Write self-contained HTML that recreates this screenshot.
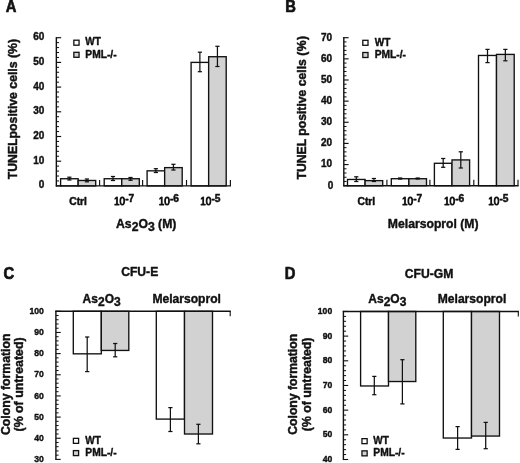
<!DOCTYPE html><html><head><meta charset="utf-8"><title>Figure</title>
<style>html,body{margin:0;padding:0;background:#fff}svg{display:block;filter:blur(0.3px)}text{font-family:"Liberation Sans",sans-serif;font-weight:bold;fill:#111;stroke:#111;stroke-width:0.4px;stroke-linejoin:round}.big{stroke-width:0.45px}.ltr{stroke-width:0.6px}.leg{stroke-width:0.4px}.xt{stroke-width:0.5px}.ttl{stroke-width:0.4px}</style></head><body>
<svg width="520" height="463" viewBox="0 0 520 463">
<rect x="0" y="0" width="520" height="463" fill="#fff"/>
<text class="ltr" transform="translate(5.70,11.70) scale(1,1.12)" font-size="14.8">A</text>
<rect x="60.60" y="178.74" width="17.55" height="7.16" fill="#fff" stroke="#111" stroke-width="1.35"/>
<rect x="78.15" y="180.47" width="17.55" height="5.43" fill="#d2d2d2" stroke="#111" stroke-width="1.35"/>
<line x1="69.38" y1="177.20" x2="69.38" y2="180.00" stroke="#111" stroke-width="1.25"/>
<line x1="67.28" y1="177.20" x2="71.47" y2="177.20" stroke="#111" stroke-width="1.25"/>
<line x1="67.28" y1="180.00" x2="71.47" y2="180.00" stroke="#111" stroke-width="1.25"/>
<line x1="86.93" y1="179.00" x2="86.93" y2="181.80" stroke="#111" stroke-width="1.25"/>
<line x1="84.83" y1="179.00" x2="89.03" y2="179.00" stroke="#111" stroke-width="1.25"/>
<line x1="84.83" y1="181.80" x2="89.03" y2="181.80" stroke="#111" stroke-width="1.25"/>
<rect x="104.20" y="178.74" width="17.55" height="7.16" fill="#fff" stroke="#111" stroke-width="1.35"/>
<rect x="121.75" y="178.74" width="17.55" height="7.16" fill="#d2d2d2" stroke="#111" stroke-width="1.35"/>
<line x1="112.98" y1="176.50" x2="112.98" y2="180.50" stroke="#111" stroke-width="1.25"/>
<line x1="110.88" y1="176.50" x2="115.08" y2="176.50" stroke="#111" stroke-width="1.25"/>
<line x1="110.88" y1="180.50" x2="115.08" y2="180.50" stroke="#111" stroke-width="1.25"/>
<line x1="130.53" y1="177.50" x2="130.53" y2="180.30" stroke="#111" stroke-width="1.25"/>
<line x1="128.43" y1="177.50" x2="132.62" y2="177.50" stroke="#111" stroke-width="1.25"/>
<line x1="128.43" y1="180.30" x2="132.62" y2="180.30" stroke="#111" stroke-width="1.25"/>
<rect x="147.10" y="170.83" width="17.55" height="15.07" fill="#fff" stroke="#111" stroke-width="1.35"/>
<rect x="164.65" y="167.62" width="17.55" height="18.28" fill="#d2d2d2" stroke="#111" stroke-width="1.35"/>
<line x1="155.88" y1="168.70" x2="155.88" y2="172.50" stroke="#111" stroke-width="1.25"/>
<line x1="153.78" y1="168.70" x2="157.97" y2="168.70" stroke="#111" stroke-width="1.25"/>
<line x1="153.78" y1="172.50" x2="157.97" y2="172.50" stroke="#111" stroke-width="1.25"/>
<line x1="173.43" y1="164.30" x2="173.43" y2="170.00" stroke="#111" stroke-width="1.25"/>
<line x1="171.33" y1="164.30" x2="175.53" y2="164.30" stroke="#111" stroke-width="1.25"/>
<line x1="171.33" y1="170.00" x2="175.53" y2="170.00" stroke="#111" stroke-width="1.25"/>
<rect x="191.10" y="62.40" width="17.55" height="123.50" fill="#fff" stroke="#111" stroke-width="1.35"/>
<rect x="208.65" y="56.72" width="17.55" height="129.18" fill="#d2d2d2" stroke="#111" stroke-width="1.35"/>
<line x1="199.88" y1="52.20" x2="199.88" y2="71.70" stroke="#111" stroke-width="1.25"/>
<line x1="197.78" y1="52.20" x2="201.97" y2="52.20" stroke="#111" stroke-width="1.25"/>
<line x1="197.78" y1="71.70" x2="201.97" y2="71.70" stroke="#111" stroke-width="1.25"/>
<line x1="217.43" y1="46.30" x2="217.43" y2="66.50" stroke="#111" stroke-width="1.25"/>
<line x1="215.33" y1="46.30" x2="219.53" y2="46.30" stroke="#111" stroke-width="1.25"/>
<line x1="215.33" y1="66.50" x2="219.53" y2="66.50" stroke="#111" stroke-width="1.25"/>
<line x1="56.35" y1="37.10" x2="56.35" y2="186.50" stroke="#111" stroke-width="1.4"/>
<line x1="55.75" y1="185.90" x2="231.00" y2="185.90" stroke="#111" stroke-width="1.4"/>
<line x1="99.60" y1="185.90" x2="99.60" y2="179.90" stroke="#111" stroke-width="1.15"/>
<line x1="142.60" y1="185.90" x2="142.60" y2="179.90" stroke="#111" stroke-width="1.15"/>
<line x1="186.50" y1="185.90" x2="186.50" y2="179.90" stroke="#111" stroke-width="1.15"/>
<line x1="230.40" y1="185.90" x2="230.40" y2="179.90" stroke="#111" stroke-width="1.15"/>
<line x1="56.35" y1="185.90" x2="61.15" y2="185.90" stroke="#111" stroke-width="1.15"/>
<text x="44.30" y="188.30" font-size="10" text-anchor="end" >0</text>
<line x1="56.35" y1="180.96" x2="59.05" y2="180.96" stroke="#111" stroke-width="1.0"/>
<line x1="56.35" y1="176.02" x2="59.05" y2="176.02" stroke="#111" stroke-width="1.0"/>
<line x1="56.35" y1="171.08" x2="59.05" y2="171.08" stroke="#111" stroke-width="1.0"/>
<line x1="56.35" y1="166.14" x2="59.05" y2="166.14" stroke="#111" stroke-width="1.0"/>
<line x1="56.35" y1="161.20" x2="61.15" y2="161.20" stroke="#111" stroke-width="1.15"/>
<text x="44.30" y="163.60" font-size="10" text-anchor="end" >10</text>
<line x1="56.35" y1="156.26" x2="59.05" y2="156.26" stroke="#111" stroke-width="1.0"/>
<line x1="56.35" y1="151.32" x2="59.05" y2="151.32" stroke="#111" stroke-width="1.0"/>
<line x1="56.35" y1="146.38" x2="59.05" y2="146.38" stroke="#111" stroke-width="1.0"/>
<line x1="56.35" y1="141.44" x2="59.05" y2="141.44" stroke="#111" stroke-width="1.0"/>
<line x1="56.35" y1="136.50" x2="61.15" y2="136.50" stroke="#111" stroke-width="1.15"/>
<text x="44.30" y="138.90" font-size="10" text-anchor="end" >20</text>
<line x1="56.35" y1="131.56" x2="59.05" y2="131.56" stroke="#111" stroke-width="1.0"/>
<line x1="56.35" y1="126.62" x2="59.05" y2="126.62" stroke="#111" stroke-width="1.0"/>
<line x1="56.35" y1="121.68" x2="59.05" y2="121.68" stroke="#111" stroke-width="1.0"/>
<line x1="56.35" y1="116.74" x2="59.05" y2="116.74" stroke="#111" stroke-width="1.0"/>
<line x1="56.35" y1="111.80" x2="61.15" y2="111.80" stroke="#111" stroke-width="1.15"/>
<text x="44.30" y="114.20" font-size="10" text-anchor="end" >30</text>
<line x1="56.35" y1="106.86" x2="59.05" y2="106.86" stroke="#111" stroke-width="1.0"/>
<line x1="56.35" y1="101.92" x2="59.05" y2="101.92" stroke="#111" stroke-width="1.0"/>
<line x1="56.35" y1="96.98" x2="59.05" y2="96.98" stroke="#111" stroke-width="1.0"/>
<line x1="56.35" y1="92.04" x2="59.05" y2="92.04" stroke="#111" stroke-width="1.0"/>
<line x1="56.35" y1="87.10" x2="61.15" y2="87.10" stroke="#111" stroke-width="1.15"/>
<text x="44.30" y="89.50" font-size="10" text-anchor="end" >40</text>
<line x1="56.35" y1="82.16" x2="59.05" y2="82.16" stroke="#111" stroke-width="1.0"/>
<line x1="56.35" y1="77.22" x2="59.05" y2="77.22" stroke="#111" stroke-width="1.0"/>
<line x1="56.35" y1="72.28" x2="59.05" y2="72.28" stroke="#111" stroke-width="1.0"/>
<line x1="56.35" y1="67.34" x2="59.05" y2="67.34" stroke="#111" stroke-width="1.0"/>
<line x1="56.35" y1="62.40" x2="61.15" y2="62.40" stroke="#111" stroke-width="1.15"/>
<text x="44.30" y="64.80" font-size="10" text-anchor="end" >50</text>
<line x1="56.35" y1="57.46" x2="59.05" y2="57.46" stroke="#111" stroke-width="1.0"/>
<line x1="56.35" y1="52.52" x2="59.05" y2="52.52" stroke="#111" stroke-width="1.0"/>
<line x1="56.35" y1="47.58" x2="59.05" y2="47.58" stroke="#111" stroke-width="1.0"/>
<line x1="56.35" y1="42.64" x2="59.05" y2="42.64" stroke="#111" stroke-width="1.0"/>
<line x1="56.35" y1="37.70" x2="61.15" y2="37.70" stroke="#111" stroke-width="1.15"/>
<text x="44.30" y="40.10" font-size="10" text-anchor="end" >60</text>
<text x="78.07" y="205.00" font-size="10.2" text-anchor="middle" class="xt">Ctrl</text>
<text class="xt" x="114.00" y="205" font-size="10.2"><tspan style="font-weight:normal;stroke-width:0.85px" font-size="10">10</tspan><tspan dy="-3.2" dx="0.1">-7</tspan></text>
<text class="xt" x="158.70" y="205" font-size="10.2"><tspan style="font-weight:normal;stroke-width:0.85px" font-size="10">10</tspan><tspan dy="-3.2" dx="0.1">-6</tspan></text>
<text class="xt" x="200.20" y="205" font-size="10.2"><tspan style="font-weight:normal;stroke-width:0.85px" font-size="10">10</tspan><tspan dy="-3.2" dx="0.1">-5</tspan></text>
<text class="ttl" x="146.2" y="227.5" font-size="12.2" text-anchor="middle">As<tspan dy="3.6">2</tspan><tspan dy="-3.6">O</tspan><tspan dy="3.6">3</tspan><tspan dy="-3.6"> (M)</tspan></text>
<text class="big" transform="translate(17.30,109.10) rotate(-90)" font-size="12.25" text-anchor="middle">TUNELpositive cells (%)</text>
<rect x="73.85" y="40.20" width="5.20" height="5.00" fill="#fff" stroke="#111" stroke-width="1.3"/>
<text class="leg" x="85.3" y="45.4" font-size="10.25" textLength="15.6" lengthAdjust="spacingAndGlyphs">WT</text>
<rect x="73.85" y="52.30" width="5.20" height="5.00" fill="#d2d2d2" stroke="#111" stroke-width="1.3"/>
<text x="85.30" y="57.70" font-size="10.25" text-anchor="start" class="leg">PML-/-</text>
<text class="ltr" transform="translate(285.20,12.00) scale(1,1.12)" font-size="14.8">B</text>
<rect x="347.50" y="179.46" width="17.60" height="6.24" fill="#fff" stroke="#111" stroke-width="1.35"/>
<rect x="365.10" y="180.63" width="17.60" height="5.07" fill="#d2d2d2" stroke="#111" stroke-width="1.35"/>
<line x1="356.30" y1="176.80" x2="356.30" y2="181.50" stroke="#111" stroke-width="1.25"/>
<line x1="354.20" y1="176.80" x2="358.40" y2="176.80" stroke="#111" stroke-width="1.25"/>
<line x1="354.20" y1="181.50" x2="358.40" y2="181.50" stroke="#111" stroke-width="1.25"/>
<line x1="373.90" y1="178.50" x2="373.90" y2="181.50" stroke="#111" stroke-width="1.25"/>
<line x1="371.80" y1="178.50" x2="376.00" y2="178.50" stroke="#111" stroke-width="1.25"/>
<line x1="371.80" y1="181.50" x2="376.00" y2="181.50" stroke="#111" stroke-width="1.25"/>
<rect x="391.30" y="178.72" width="17.60" height="6.98" fill="#fff" stroke="#111" stroke-width="1.35"/>
<rect x="408.90" y="178.72" width="17.60" height="6.98" fill="#d2d2d2" stroke="#111" stroke-width="1.35"/>
<line x1="400.10" y1="178.00" x2="400.10" y2="179.00" stroke="#111" stroke-width="1.25"/>
<line x1="398.00" y1="178.00" x2="402.20" y2="178.00" stroke="#111" stroke-width="1.25"/>
<line x1="398.00" y1="179.00" x2="402.20" y2="179.00" stroke="#111" stroke-width="1.25"/>
<line x1="417.70" y1="178.00" x2="417.70" y2="179.00" stroke="#111" stroke-width="1.25"/>
<line x1="415.60" y1="178.00" x2="419.80" y2="178.00" stroke="#111" stroke-width="1.25"/>
<line x1="415.60" y1="179.00" x2="419.80" y2="179.00" stroke="#111" stroke-width="1.25"/>
<rect x="434.40" y="163.29" width="17.60" height="22.41" fill="#fff" stroke="#111" stroke-width="1.35"/>
<rect x="452.00" y="159.91" width="17.60" height="25.79" fill="#d2d2d2" stroke="#111" stroke-width="1.35"/>
<line x1="443.20" y1="158.50" x2="443.20" y2="167.30" stroke="#111" stroke-width="1.25"/>
<line x1="441.10" y1="158.50" x2="445.30" y2="158.50" stroke="#111" stroke-width="1.25"/>
<line x1="441.10" y1="167.30" x2="445.30" y2="167.30" stroke="#111" stroke-width="1.25"/>
<line x1="460.80" y1="151.80" x2="460.80" y2="168.00" stroke="#111" stroke-width="1.25"/>
<line x1="458.70" y1="151.80" x2="462.90" y2="151.80" stroke="#111" stroke-width="1.25"/>
<line x1="458.70" y1="168.00" x2="462.90" y2="168.00" stroke="#111" stroke-width="1.25"/>
<rect x="478.50" y="55.46" width="18.00" height="130.24" fill="#fff" stroke="#111" stroke-width="1.35"/>
<rect x="496.50" y="54.40" width="17.70" height="131.30" fill="#d2d2d2" stroke="#111" stroke-width="1.35"/>
<line x1="487.50" y1="49.40" x2="487.50" y2="62.60" stroke="#111" stroke-width="1.25"/>
<line x1="485.40" y1="49.40" x2="489.60" y2="49.40" stroke="#111" stroke-width="1.25"/>
<line x1="485.40" y1="62.60" x2="489.60" y2="62.60" stroke="#111" stroke-width="1.25"/>
<line x1="505.35" y1="49.40" x2="505.35" y2="60.80" stroke="#111" stroke-width="1.25"/>
<line x1="503.25" y1="49.40" x2="507.45" y2="49.40" stroke="#111" stroke-width="1.25"/>
<line x1="503.25" y1="60.80" x2="507.45" y2="60.80" stroke="#111" stroke-width="1.25"/>
<line x1="343.80" y1="37.10" x2="343.80" y2="186.30" stroke="#111" stroke-width="1.4"/>
<line x1="343.20" y1="185.70" x2="518.60" y2="185.70" stroke="#111" stroke-width="1.4"/>
<line x1="386.90" y1="185.70" x2="386.90" y2="179.70" stroke="#111" stroke-width="1.15"/>
<line x1="429.90" y1="185.70" x2="429.90" y2="179.70" stroke="#111" stroke-width="1.15"/>
<line x1="473.80" y1="185.70" x2="473.80" y2="179.70" stroke="#111" stroke-width="1.15"/>
<line x1="518.00" y1="185.70" x2="518.00" y2="179.70" stroke="#111" stroke-width="1.15"/>
<line x1="343.80" y1="185.70" x2="348.60" y2="185.70" stroke="#111" stroke-width="1.15"/>
<text x="333.40" y="188.50" font-size="10" text-anchor="end" >0</text>
<line x1="343.80" y1="181.47" x2="346.50" y2="181.47" stroke="#111" stroke-width="1.0"/>
<line x1="343.80" y1="177.24" x2="346.50" y2="177.24" stroke="#111" stroke-width="1.0"/>
<line x1="343.80" y1="173.01" x2="346.50" y2="173.01" stroke="#111" stroke-width="1.0"/>
<line x1="343.80" y1="168.79" x2="346.50" y2="168.79" stroke="#111" stroke-width="1.0"/>
<line x1="343.80" y1="164.56" x2="348.60" y2="164.56" stroke="#111" stroke-width="1.15"/>
<text x="332.20" y="167.36" font-size="10" text-anchor="end" >10</text>
<line x1="343.80" y1="160.33" x2="346.50" y2="160.33" stroke="#111" stroke-width="1.0"/>
<line x1="343.80" y1="156.10" x2="346.50" y2="156.10" stroke="#111" stroke-width="1.0"/>
<line x1="343.80" y1="151.87" x2="346.50" y2="151.87" stroke="#111" stroke-width="1.0"/>
<line x1="343.80" y1="147.64" x2="346.50" y2="147.64" stroke="#111" stroke-width="1.0"/>
<line x1="343.80" y1="143.41" x2="348.60" y2="143.41" stroke="#111" stroke-width="1.15"/>
<text x="332.20" y="146.21" font-size="10" text-anchor="end" >20</text>
<line x1="343.80" y1="139.19" x2="346.50" y2="139.19" stroke="#111" stroke-width="1.0"/>
<line x1="343.80" y1="134.96" x2="346.50" y2="134.96" stroke="#111" stroke-width="1.0"/>
<line x1="343.80" y1="130.73" x2="346.50" y2="130.73" stroke="#111" stroke-width="1.0"/>
<line x1="343.80" y1="126.50" x2="346.50" y2="126.50" stroke="#111" stroke-width="1.0"/>
<line x1="343.80" y1="122.27" x2="348.60" y2="122.27" stroke="#111" stroke-width="1.15"/>
<text x="332.20" y="125.07" font-size="10" text-anchor="end" >30</text>
<line x1="343.80" y1="118.04" x2="346.50" y2="118.04" stroke="#111" stroke-width="1.0"/>
<line x1="343.80" y1="113.81" x2="346.50" y2="113.81" stroke="#111" stroke-width="1.0"/>
<line x1="343.80" y1="109.59" x2="346.50" y2="109.59" stroke="#111" stroke-width="1.0"/>
<line x1="343.80" y1="105.36" x2="346.50" y2="105.36" stroke="#111" stroke-width="1.0"/>
<line x1="343.80" y1="101.13" x2="348.60" y2="101.13" stroke="#111" stroke-width="1.15"/>
<text x="332.20" y="103.93" font-size="10" text-anchor="end" >40</text>
<line x1="343.80" y1="96.90" x2="346.50" y2="96.90" stroke="#111" stroke-width="1.0"/>
<line x1="343.80" y1="92.67" x2="346.50" y2="92.67" stroke="#111" stroke-width="1.0"/>
<line x1="343.80" y1="88.44" x2="346.50" y2="88.44" stroke="#111" stroke-width="1.0"/>
<line x1="343.80" y1="84.21" x2="346.50" y2="84.21" stroke="#111" stroke-width="1.0"/>
<line x1="343.80" y1="79.99" x2="348.60" y2="79.99" stroke="#111" stroke-width="1.15"/>
<text x="332.20" y="82.79" font-size="10" text-anchor="end" >50</text>
<line x1="343.80" y1="75.76" x2="346.50" y2="75.76" stroke="#111" stroke-width="1.0"/>
<line x1="343.80" y1="71.53" x2="346.50" y2="71.53" stroke="#111" stroke-width="1.0"/>
<line x1="343.80" y1="67.30" x2="346.50" y2="67.30" stroke="#111" stroke-width="1.0"/>
<line x1="343.80" y1="63.07" x2="346.50" y2="63.07" stroke="#111" stroke-width="1.0"/>
<line x1="343.80" y1="58.84" x2="348.60" y2="58.84" stroke="#111" stroke-width="1.15"/>
<text x="332.20" y="61.64" font-size="10" text-anchor="end" >60</text>
<line x1="343.80" y1="54.61" x2="346.50" y2="54.61" stroke="#111" stroke-width="1.0"/>
<line x1="343.80" y1="50.39" x2="346.50" y2="50.39" stroke="#111" stroke-width="1.0"/>
<line x1="343.80" y1="46.16" x2="346.50" y2="46.16" stroke="#111" stroke-width="1.0"/>
<line x1="343.80" y1="41.93" x2="346.50" y2="41.93" stroke="#111" stroke-width="1.0"/>
<line x1="343.80" y1="37.70" x2="348.60" y2="37.70" stroke="#111" stroke-width="1.15"/>
<text x="332.20" y="40.50" font-size="10" text-anchor="end" >70</text>
<text x="366.35" y="205.00" font-size="10.2" text-anchor="middle" class="xt">Ctrl</text>
<text class="xt" x="402.00" y="205" font-size="10.2"><tspan style="font-weight:normal;stroke-width:0.85px" font-size="10">10</tspan><tspan dy="-3.2" dx="0.1">-7</tspan></text>
<text class="xt" x="443.90" y="205" font-size="10.2"><tspan style="font-weight:normal;stroke-width:0.85px" font-size="10">10</tspan><tspan dy="-3.2" dx="0.1">-6</tspan></text>
<text class="xt" x="488.20" y="205" font-size="10.2"><tspan style="font-weight:normal;stroke-width:0.85px" font-size="10">10</tspan><tspan dy="-3.2" dx="0.1">-5</tspan></text>
<text class="ttl" x="433.2" y="228.0" font-size="12.2" text-anchor="middle">Melarsoprol (M)</text>
<text class="big" transform="translate(306.10,107.50) rotate(-90)" font-size="12.2" text-anchor="middle">TUNEL positive cells <tspan letter-spacing="0.45">(%)</tspan></text>
<rect x="362.80" y="40.30" width="5.20" height="5.00" fill="#fff" stroke="#111" stroke-width="1.3"/>
<text class="leg" x="374.7" y="45.6" font-size="10.25" textLength="15.6" lengthAdjust="spacingAndGlyphs">WT</text>
<rect x="362.80" y="52.50" width="5.20" height="5.00" fill="#d2d2d2" stroke="#111" stroke-width="1.3"/>
<text x="374.70" y="57.90" font-size="10.25" text-anchor="start" class="leg">PML-/-</text>
<text class="ltr" transform="translate(3.60,279.30) scale(1,1.12)" font-size="14.8">C</text>
<rect x="73.30" y="311.30" width="28.00" height="42.53" fill="#fff" stroke="#111" stroke-width="1.35"/>
<rect x="101.30" y="311.30" width="27.50" height="39.14" fill="#d2d2d2" stroke="#111" stroke-width="1.35"/>
<rect x="156.30" y="311.30" width="28.20" height="107.80" fill="#fff" stroke="#111" stroke-width="1.35"/>
<rect x="184.50" y="311.30" width="28.00" height="122.71" fill="#d2d2d2" stroke="#111" stroke-width="1.35"/>
<line x1="87.20" y1="337.00" x2="87.20" y2="371.60" stroke="#111" stroke-width="1.25"/>
<line x1="85.10" y1="337.00" x2="89.30" y2="337.00" stroke="#111" stroke-width="1.25"/>
<line x1="85.10" y1="371.60" x2="89.30" y2="371.60" stroke="#111" stroke-width="1.25"/>
<line x1="115.20" y1="343.50" x2="115.20" y2="356.80" stroke="#111" stroke-width="1.25"/>
<line x1="113.10" y1="343.50" x2="117.30" y2="343.50" stroke="#111" stroke-width="1.25"/>
<line x1="113.10" y1="356.80" x2="117.30" y2="356.80" stroke="#111" stroke-width="1.25"/>
<line x1="170.40" y1="407.60" x2="170.40" y2="431.50" stroke="#111" stroke-width="1.25"/>
<line x1="168.30" y1="407.60" x2="172.50" y2="407.60" stroke="#111" stroke-width="1.25"/>
<line x1="168.30" y1="431.50" x2="172.50" y2="431.50" stroke="#111" stroke-width="1.25"/>
<line x1="198.40" y1="424.30" x2="198.40" y2="443.80" stroke="#111" stroke-width="1.25"/>
<line x1="196.30" y1="424.30" x2="200.50" y2="424.30" stroke="#111" stroke-width="1.25"/>
<line x1="196.30" y1="443.80" x2="200.50" y2="443.80" stroke="#111" stroke-width="1.25"/>
<line x1="55.90" y1="310.70" x2="55.90" y2="460.00" stroke="#111" stroke-width="1.4"/>
<line x1="55.30" y1="311.30" x2="230.80" y2="311.30" stroke="#111" stroke-width="1.4"/>
<line x1="230.20" y1="311.30" x2="230.20" y2="316.30" stroke="#111" stroke-width="1.1"/>
<line x1="55.90" y1="459.40" x2="60.70" y2="459.40" stroke="#111" stroke-width="1.1"/>
<text x="43.90" y="462.00" font-size="8.6" text-anchor="end" >30</text>
<line x1="55.90" y1="455.17" x2="58.60" y2="455.17" stroke="#111" stroke-width="1.0"/>
<line x1="55.90" y1="450.94" x2="58.60" y2="450.94" stroke="#111" stroke-width="1.0"/>
<line x1="55.90" y1="446.71" x2="58.60" y2="446.71" stroke="#111" stroke-width="1.0"/>
<line x1="55.90" y1="442.47" x2="58.60" y2="442.47" stroke="#111" stroke-width="1.0"/>
<line x1="55.90" y1="438.24" x2="60.70" y2="438.24" stroke="#111" stroke-width="1.1"/>
<text x="43.90" y="440.84" font-size="8.6" text-anchor="end" >40</text>
<line x1="55.90" y1="434.01" x2="58.60" y2="434.01" stroke="#111" stroke-width="1.0"/>
<line x1="55.90" y1="429.78" x2="58.60" y2="429.78" stroke="#111" stroke-width="1.0"/>
<line x1="55.90" y1="425.55" x2="58.60" y2="425.55" stroke="#111" stroke-width="1.0"/>
<line x1="55.90" y1="421.32" x2="58.60" y2="421.32" stroke="#111" stroke-width="1.0"/>
<line x1="55.90" y1="417.09" x2="60.70" y2="417.09" stroke="#111" stroke-width="1.1"/>
<text x="43.90" y="419.69" font-size="8.6" text-anchor="end" >50</text>
<line x1="55.90" y1="412.85" x2="58.60" y2="412.85" stroke="#111" stroke-width="1.0"/>
<line x1="55.90" y1="408.62" x2="58.60" y2="408.62" stroke="#111" stroke-width="1.0"/>
<line x1="55.90" y1="404.39" x2="58.60" y2="404.39" stroke="#111" stroke-width="1.0"/>
<line x1="55.90" y1="400.16" x2="58.60" y2="400.16" stroke="#111" stroke-width="1.0"/>
<line x1="55.90" y1="395.93" x2="60.70" y2="395.93" stroke="#111" stroke-width="1.1"/>
<text x="43.90" y="398.53" font-size="8.6" text-anchor="end" >60</text>
<line x1="55.90" y1="391.70" x2="58.60" y2="391.70" stroke="#111" stroke-width="1.0"/>
<line x1="55.90" y1="387.47" x2="58.60" y2="387.47" stroke="#111" stroke-width="1.0"/>
<line x1="55.90" y1="383.23" x2="58.60" y2="383.23" stroke="#111" stroke-width="1.0"/>
<line x1="55.90" y1="379.00" x2="58.60" y2="379.00" stroke="#111" stroke-width="1.0"/>
<line x1="55.90" y1="374.77" x2="60.70" y2="374.77" stroke="#111" stroke-width="1.1"/>
<text x="43.90" y="377.37" font-size="8.6" text-anchor="end" >70</text>
<line x1="55.90" y1="370.54" x2="58.60" y2="370.54" stroke="#111" stroke-width="1.0"/>
<line x1="55.90" y1="366.31" x2="58.60" y2="366.31" stroke="#111" stroke-width="1.0"/>
<line x1="55.90" y1="362.08" x2="58.60" y2="362.08" stroke="#111" stroke-width="1.0"/>
<line x1="55.90" y1="357.85" x2="58.60" y2="357.85" stroke="#111" stroke-width="1.0"/>
<line x1="55.90" y1="353.61" x2="60.70" y2="353.61" stroke="#111" stroke-width="1.1"/>
<text x="43.90" y="356.21" font-size="8.6" text-anchor="end" >80</text>
<line x1="55.90" y1="349.38" x2="58.60" y2="349.38" stroke="#111" stroke-width="1.0"/>
<line x1="55.90" y1="345.15" x2="58.60" y2="345.15" stroke="#111" stroke-width="1.0"/>
<line x1="55.90" y1="340.92" x2="58.60" y2="340.92" stroke="#111" stroke-width="1.0"/>
<line x1="55.90" y1="336.69" x2="58.60" y2="336.69" stroke="#111" stroke-width="1.0"/>
<line x1="55.90" y1="332.46" x2="60.70" y2="332.46" stroke="#111" stroke-width="1.1"/>
<text x="43.90" y="335.06" font-size="8.6" text-anchor="end" >90</text>
<line x1="55.90" y1="328.23" x2="58.60" y2="328.23" stroke="#111" stroke-width="1.0"/>
<line x1="55.90" y1="323.99" x2="58.60" y2="323.99" stroke="#111" stroke-width="1.0"/>
<line x1="55.90" y1="319.76" x2="58.60" y2="319.76" stroke="#111" stroke-width="1.0"/>
<line x1="55.90" y1="315.53" x2="58.60" y2="315.53" stroke="#111" stroke-width="1.0"/>
<line x1="55.90" y1="311.30" x2="60.70" y2="311.30" stroke="#111" stroke-width="1.1"/>
<text x="43.90" y="313.90" font-size="8.6" text-anchor="end" >100</text>
<text x="139.70" y="275.60" font-size="12.15" text-anchor="middle" class="ttl">CFU-E</text>
<text class="ttl" x="101.64999999999999" y="303.0" font-size="12.0" text-anchor="middle">As<tspan dy="3.4">2</tspan><tspan dy="-3.4">O</tspan><tspan dy="3.4">3</tspan></text>
<text x="186.70" y="303.20" font-size="12.1" text-anchor="middle" class="ttl">Melarsoprol</text>
<text class="big" transform="translate(10.45,384.30) rotate(-90)" font-size="12.26" text-anchor="middle">Colony formation</text>
<text class="big" transform="translate(22.90,384.45) rotate(-90)" font-size="12.37" text-anchor="middle">(% of untreated)</text>
<rect x="73.40" y="438.35" width="5.20" height="5.00" fill="#fff" stroke="#111" stroke-width="1.3"/>
<text class="leg" x="85.3" y="443.8" font-size="10.25" textLength="15.6" lengthAdjust="spacingAndGlyphs">WT</text>
<rect x="73.40" y="450.60" width="5.20" height="5.00" fill="#d2d2d2" stroke="#111" stroke-width="1.3"/>
<text x="85.30" y="456.00" font-size="10.25" text-anchor="start" class="leg">PML-/-</text>
<text class="ltr" transform="translate(284.80,279.40) scale(1,1.12)" font-size="14.8">D</text>
<rect x="360.60" y="311.45" width="27.90" height="74.52" fill="#fff" stroke="#111" stroke-width="1.35"/>
<rect x="388.50" y="311.45" width="27.30" height="70.08" fill="#d2d2d2" stroke="#111" stroke-width="1.35"/>
<rect x="443.30" y="311.45" width="28.20" height="126.58" fill="#fff" stroke="#111" stroke-width="1.35"/>
<rect x="471.50" y="311.45" width="28.00" height="124.61" fill="#d2d2d2" stroke="#111" stroke-width="1.35"/>
<line x1="374.30" y1="376.40" x2="374.30" y2="394.70" stroke="#111" stroke-width="1.25"/>
<line x1="372.20" y1="376.40" x2="376.40" y2="376.40" stroke="#111" stroke-width="1.25"/>
<line x1="372.20" y1="394.70" x2="376.40" y2="394.70" stroke="#111" stroke-width="1.25"/>
<line x1="402.40" y1="359.70" x2="402.40" y2="403.90" stroke="#111" stroke-width="1.25"/>
<line x1="400.30" y1="359.70" x2="404.50" y2="359.70" stroke="#111" stroke-width="1.25"/>
<line x1="400.30" y1="403.90" x2="404.50" y2="403.90" stroke="#111" stroke-width="1.25"/>
<line x1="457.60" y1="426.60" x2="457.60" y2="449.40" stroke="#111" stroke-width="1.25"/>
<line x1="455.50" y1="426.60" x2="459.70" y2="426.60" stroke="#111" stroke-width="1.25"/>
<line x1="455.50" y1="449.40" x2="459.70" y2="449.40" stroke="#111" stroke-width="1.25"/>
<line x1="485.70" y1="422.40" x2="485.70" y2="448.70" stroke="#111" stroke-width="1.25"/>
<line x1="483.60" y1="422.40" x2="487.80" y2="422.40" stroke="#111" stroke-width="1.25"/>
<line x1="483.60" y1="448.70" x2="487.80" y2="448.70" stroke="#111" stroke-width="1.25"/>
<line x1="343.40" y1="310.85" x2="343.40" y2="460.10" stroke="#111" stroke-width="1.4"/>
<line x1="342.80" y1="311.45" x2="518.90" y2="311.45" stroke="#111" stroke-width="1.4"/>
<line x1="518.30" y1="311.45" x2="518.30" y2="316.45" stroke="#111" stroke-width="1.1"/>
<line x1="343.40" y1="459.50" x2="348.20" y2="459.50" stroke="#111" stroke-width="1.1"/>
<text x="332.20" y="461.90" font-size="8.6" text-anchor="end" >40</text>
<line x1="343.40" y1="454.56" x2="346.10" y2="454.56" stroke="#111" stroke-width="1.0"/>
<line x1="343.40" y1="449.63" x2="346.10" y2="449.63" stroke="#111" stroke-width="1.0"/>
<line x1="343.40" y1="444.69" x2="346.10" y2="444.69" stroke="#111" stroke-width="1.0"/>
<line x1="343.40" y1="439.76" x2="346.10" y2="439.76" stroke="#111" stroke-width="1.0"/>
<line x1="343.40" y1="434.82" x2="348.20" y2="434.82" stroke="#111" stroke-width="1.1"/>
<text x="332.20" y="437.22" font-size="8.6" text-anchor="end" >50</text>
<line x1="343.40" y1="429.89" x2="346.10" y2="429.89" stroke="#111" stroke-width="1.0"/>
<line x1="343.40" y1="424.95" x2="346.10" y2="424.95" stroke="#111" stroke-width="1.0"/>
<line x1="343.40" y1="420.02" x2="346.10" y2="420.02" stroke="#111" stroke-width="1.0"/>
<line x1="343.40" y1="415.08" x2="346.10" y2="415.08" stroke="#111" stroke-width="1.0"/>
<line x1="343.40" y1="410.15" x2="348.20" y2="410.15" stroke="#111" stroke-width="1.1"/>
<text x="332.20" y="412.55" font-size="8.6" text-anchor="end" >60</text>
<line x1="343.40" y1="405.22" x2="346.10" y2="405.22" stroke="#111" stroke-width="1.0"/>
<line x1="343.40" y1="400.28" x2="346.10" y2="400.28" stroke="#111" stroke-width="1.0"/>
<line x1="343.40" y1="395.35" x2="346.10" y2="395.35" stroke="#111" stroke-width="1.0"/>
<line x1="343.40" y1="390.41" x2="346.10" y2="390.41" stroke="#111" stroke-width="1.0"/>
<line x1="343.40" y1="385.48" x2="348.20" y2="385.48" stroke="#111" stroke-width="1.1"/>
<text x="332.20" y="387.88" font-size="8.6" text-anchor="end" >70</text>
<line x1="343.40" y1="380.54" x2="346.10" y2="380.54" stroke="#111" stroke-width="1.0"/>
<line x1="343.40" y1="375.61" x2="346.10" y2="375.61" stroke="#111" stroke-width="1.0"/>
<line x1="343.40" y1="370.67" x2="346.10" y2="370.67" stroke="#111" stroke-width="1.0"/>
<line x1="343.40" y1="365.74" x2="346.10" y2="365.74" stroke="#111" stroke-width="1.0"/>
<line x1="343.40" y1="360.80" x2="348.20" y2="360.80" stroke="#111" stroke-width="1.1"/>
<text x="332.20" y="363.20" font-size="8.6" text-anchor="end" >80</text>
<line x1="343.40" y1="355.87" x2="346.10" y2="355.87" stroke="#111" stroke-width="1.0"/>
<line x1="343.40" y1="350.93" x2="346.10" y2="350.93" stroke="#111" stroke-width="1.0"/>
<line x1="343.40" y1="346.00" x2="346.10" y2="346.00" stroke="#111" stroke-width="1.0"/>
<line x1="343.40" y1="341.06" x2="346.10" y2="341.06" stroke="#111" stroke-width="1.0"/>
<line x1="343.40" y1="336.12" x2="348.20" y2="336.12" stroke="#111" stroke-width="1.1"/>
<text x="332.20" y="338.52" font-size="8.6" text-anchor="end" >90</text>
<line x1="343.40" y1="331.19" x2="346.10" y2="331.19" stroke="#111" stroke-width="1.0"/>
<line x1="343.40" y1="326.25" x2="346.10" y2="326.25" stroke="#111" stroke-width="1.0"/>
<line x1="343.40" y1="321.32" x2="346.10" y2="321.32" stroke="#111" stroke-width="1.0"/>
<line x1="343.40" y1="316.38" x2="346.10" y2="316.38" stroke="#111" stroke-width="1.0"/>
<line x1="343.40" y1="311.45" x2="348.20" y2="311.45" stroke="#111" stroke-width="1.1"/>
<text x="332.20" y="313.85" font-size="8.6" text-anchor="end" >100</text>
<text x="429.00" y="277.60" font-size="12.15" text-anchor="middle" class="ttl">CFU-GM</text>
<text class="ttl" x="387.35" y="303.0" font-size="12.0" text-anchor="middle">As<tspan dy="3.4">2</tspan><tspan dy="-3.4">O</tspan><tspan dy="3.4">3</tspan></text>
<text x="472.00" y="303.20" font-size="12.1" text-anchor="middle" class="ttl">Melarsoprol</text>
<text class="big" transform="translate(297.35,384.30) rotate(-90)" font-size="12.2" text-anchor="middle">Colony formation</text>
<text class="big" transform="translate(311.10,384.35) rotate(-90)" font-size="12.3" text-anchor="middle">(% of untreated)</text>
<rect x="361.95" y="438.65" width="5.20" height="5.00" fill="#fff" stroke="#111" stroke-width="1.3"/>
<text class="leg" x="373.3" y="444.2" font-size="10.25" textLength="15.6" lengthAdjust="spacingAndGlyphs">WT</text>
<rect x="361.95" y="450.85" width="5.20" height="5.00" fill="#d2d2d2" stroke="#111" stroke-width="1.3"/>
<text x="373.30" y="456.30" font-size="10.25" text-anchor="start" class="leg">PML-/-</text>
</svg></body></html>
